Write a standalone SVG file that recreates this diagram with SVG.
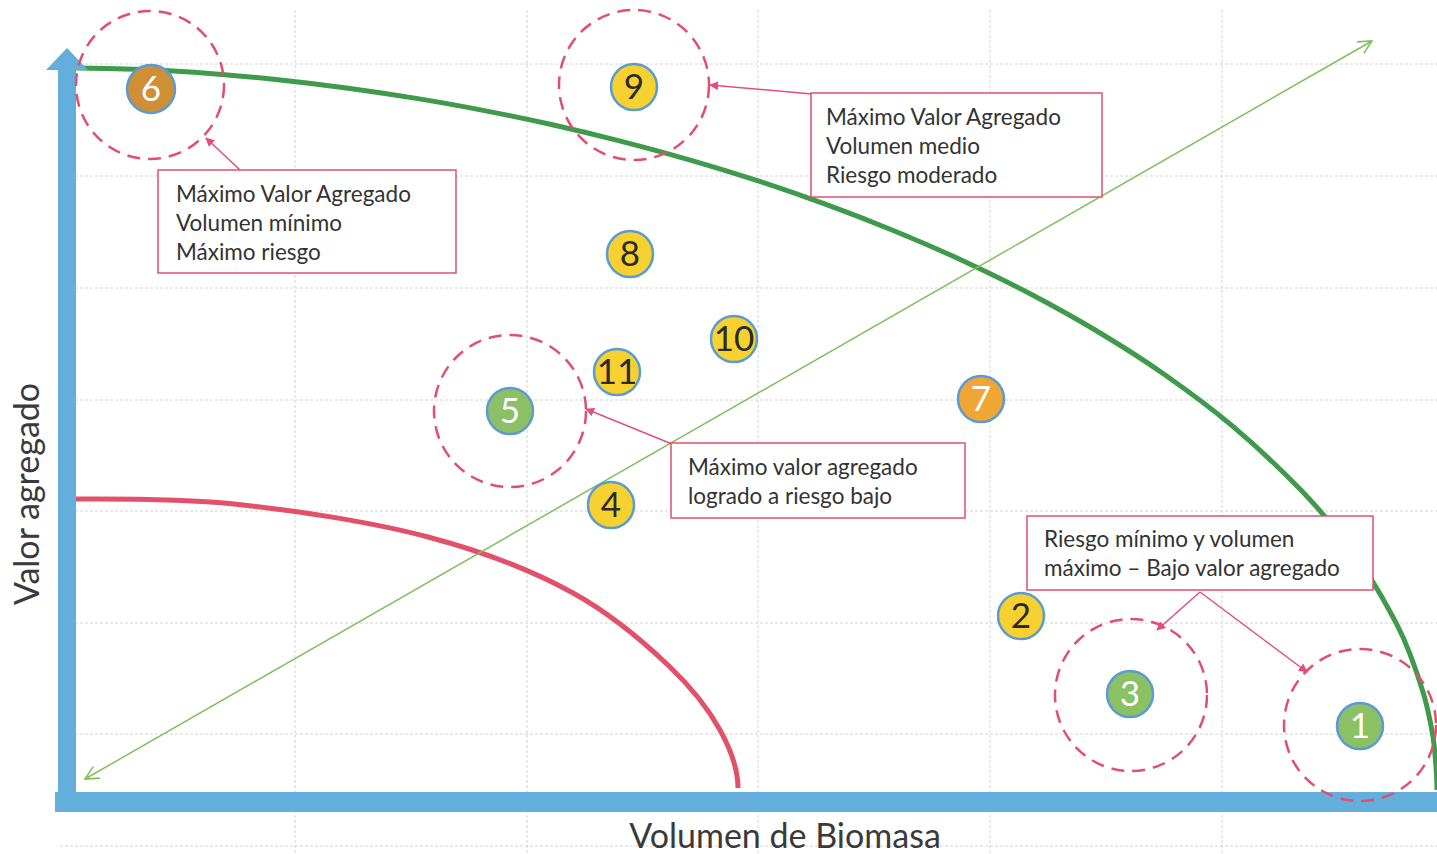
<svg xmlns="http://www.w3.org/2000/svg" width="1437" height="854" viewBox="0 0 1437 854">
  <style>
    .grid { stroke: #d4d4d4; stroke-width: 1; stroke-dasharray: 3 2; fill: none; }
    .zone { fill: none; stroke: #e0506e; stroke-width: 2.5; stroke-dasharray: 13 8; }
    .note { fill: #ffffff; stroke: #e0506e; stroke-width: 1.5; }
    .note-text { font-family: Lato, "Liberation Sans", sans-serif; font-size: 22.5px; fill: #333333; }
    .dot { stroke: #5b9bd5; stroke-width: 2.5; }
    .yellow { fill: #f6d12f; }
    .green { fill: #8cc064; }
    .orange { fill: #f0a634; }
    .brown { fill: #cf8f35; }
    .num { font-family: Lato, "Liberation Sans", sans-serif; font-size: 35px; text-anchor: middle; }
    .num-dark { fill: #2a2a2a; }
    .num-light { fill: #ffffff; }
    .axis-label { font-family: Lato, "Liberation Sans", sans-serif; font-size: 34px; fill: #3a3a3a; }
    .pointer { stroke: #e0507a; stroke-width: 1.5; fill: none; }
    .frontier { fill: none; stroke-width: 5; stroke-linejoin: round; stroke-linecap: butt; }
  </style>
  <defs>
    <marker id="pink-head" viewBox="0 0 10 10" refX="9" refY="5" markerWidth="9" markerHeight="9" markerUnits="userSpaceOnUse" orient="auto">
      <path d="M0,0 L10,5 L0,10 Z" fill="#e0507a"/>
    </marker>
    <marker id="green-head" viewBox="0 0 12 12" refX="11" refY="6" markerWidth="16" markerHeight="16" markerUnits="userSpaceOnUse" orient="auto-start-reverse">
      <path d="M1,1 L11,6 L1,11" fill="none" stroke="#7ec05a" stroke-width="1.2"/>
    </marker>
  </defs>

  <rect width="1437" height="854" fill="#ffffff"/>

  <!-- background grid -->
  <g id="grid">
    <line class="grid" x1="60" y1="64" x2="1437" y2="64"/>
    <line class="grid" x1="60" y1="176" x2="1437" y2="176"/>
    <line class="grid" x1="60" y1="288" x2="1437" y2="288"/>
    <line class="grid" x1="60" y1="400" x2="1437" y2="400"/>
    <line class="grid" x1="60" y1="511" x2="1437" y2="511"/>
    <line class="grid" x1="60" y1="623" x2="1437" y2="623"/>
    <line class="grid" x1="60" y1="734" x2="1437" y2="734"/>
    <line class="grid" x1="60" y1="846" x2="1437" y2="846"/>
    <line class="grid" x1="295" y1="10" x2="295" y2="854"/>
    <line class="grid" x1="527" y1="10" x2="527" y2="854"/>
    <line class="grid" x1="758" y1="10" x2="758" y2="854"/>
    <line class="grid" x1="990" y1="10" x2="990" y2="854"/>
    <line class="grid" x1="1222" y1="10" x2="1222" y2="854"/>
  </g>

  <!-- curves, the risk diagonal and note pointers -->
  <g id="connectors">
    <!-- outer frontier: y = 790 - 722*sqrt(1 - t^1.8), x = 76 + 1361*t, smoothed through sample points -->
    <path id="frontier-high" class="frontier" stroke="#3f9a4c" d="M76,68 C87.4,68 121.4,68.7 144.1,69.6 C166.8,70.6 189.4,72 212.1,73.7 C234.8,75.4 257.5,77.6 280.2,80 C302.9,82.4 325.5,85.1 348.2,88.2 C370.9,91.3 393.6,94.7 416.3,98.4 C439,102.1 461.6,106.2 484.3,110.6 C507,115 529.7,119.7 552.4,124.8 C575.1,129.9 597.7,135.3 620.4,141.1 C643.1,146.9 665.8,153.1 688.5,159.6 C711.2,166.2 733.8,173 756.5,180.4 C779.2,187.8 801.9,195.6 824.6,203.9 C847.3,212.2 869.9,220.9 892.6,230.2 C915.3,239.5 938,249.2 960.7,259.7 C983.4,270.2 1006,281.1 1028.7,293 C1051.4,304.9 1074.1,317.4 1096.8,331 C1119.5,344.6 1142.1,358.8 1164.8,374.7 C1187.5,390.6 1210.2,407.2 1232.9,426.4 C1255.6,445.6 1282.8,471.4 1300.9,489.9 C1319,508.4 1330.4,523 1341.7,537.3 C1353,551.6 1359.8,561.3 1368.9,575.6 C1378,589.9 1389.4,610.2 1396.2,623.2 C1403,636.2 1405.3,641.9 1409.8,653.6 C1414.3,665.3 1420,682 1423.4,693.3 C1426.8,704.6 1428.4,712.7 1430.2,721.6 C1432,730.5 1433.2,735.3 1434.3,746.7 C1435.4,758.1 1437,783 1437,790"/>
    <path id="frontier-low" class="frontier" stroke="#e2506a" d="M76,499 C102,499 175,498 234,504 C293,510 372,522 428,537 C485,552 533,571 573,593 C613,615 646,644 670,667 C694,690 709,710 720,730 C731,750 738,770 738,788"/>
    <line id="risk-axis" x1="85" y1="779" x2="1372" y2="41" stroke="#7ec05a" stroke-width="1.5" marker-start="url(#green-head)" marker-end="url(#green-head)"/>
    <line class="pointer" x1="240" y1="170" x2="206" y2="138" marker-end="url(#pink-head)"/>
    <line class="pointer" x1="812" y1="94" x2="710" y2="85" marker-end="url(#pink-head)"/>
    <line class="pointer" x1="672" y1="444" x2="586" y2="409" marker-end="url(#pink-head)"/>
    <line class="pointer" x1="1200" y1="592" x2="1157" y2="630" marker-end="url(#pink-head)"/>
    <line class="pointer" x1="1200" y1="592" x2="1307" y2="672" marker-end="url(#pink-head)"/>
  </g>

  <!-- axes -->
  <g id="axes">
    <rect x="58" y="66" width="18" height="746" fill="#64aedb"/>
    <path d="M46,70 L67,48 L88,70 Z" fill="#64aedb"/>
    <rect x="55" y="792" width="1382" height="20" fill="#64aedb"/>
    <text class="axis-label" x="0" y="0" text-anchor="middle" transform="translate(39,494) rotate(-90)">Valor agregado</text>
    <text class="axis-label" x="785" y="848" text-anchor="middle">Volumen de Biomasa</text>
  </g>

  <!-- highlighted zones -->
  <g id="zone-6"><circle class="zone" cx="150" cy="85" r="74"/></g>
  <g id="zone-9"><circle class="zone" cx="634" cy="85" r="75"/></g>
  <g id="zone-5"><circle class="zone" cx="510" cy="411" r="76"/></g>
  <g id="zone-3"><circle class="zone" cx="1131" cy="695" r="76"/></g>
  <g id="zone-1"><circle class="zone" cx="1360" cy="725" r="76"/></g>

  <!-- notes -->
  <g id="note-max-risk">
    <rect class="note" x="158" y="170" width="298" height="103"/>
    <text class="note-text" x="176" y="202">Máximo Valor Agregado</text>
    <text class="note-text" x="176" y="231">Volumen mínimo</text>
    <text class="note-text" x="176" y="260">Máximo riesgo</text>
  </g>
  <g id="note-moderate">
    <rect class="note" x="811" y="93" width="291" height="104"/>
    <text class="note-text" x="826" y="125">Máximo Valor Agregado</text>
    <text class="note-text" x="826" y="154">Volumen medio</text>
    <text class="note-text" x="826" y="183">Riesgo moderado</text>
  </g>
  <g id="note-low-risk">
    <rect class="note" x="671" y="443" width="294" height="75"/>
    <text class="note-text" x="688" y="475">Máximo valor agregado</text>
    <text class="note-text" x="688" y="504">logrado a riesgo bajo</text>
  </g>
  <g id="note-min-risk">
    <rect class="note" x="1027" y="516" width="346" height="74"/>
    <text class="note-text" x="1044" y="547">Riesgo mínimo y volumen</text>
    <text class="note-text" x="1044" y="576">máximo – Bajo valor agregado</text>
  </g>

  <!-- numbered points -->
  <g id="point-6"><circle class="dot brown" cx="151" cy="89" r="24"/><text class="num num-light" x="151" y="101">6</text></g>
  <g id="point-9"><circle class="dot yellow" cx="634" cy="87" r="23"/><text class="num num-dark" x="634" y="99">9</text></g>
  <g id="point-8"><circle class="dot yellow" cx="630" cy="254" r="23"/><text class="num num-dark" x="630" y="266">8</text></g>
  <g id="point-10"><circle class="dot yellow" cx="734" cy="339" r="23"/><text class="num num-dark" x="734" y="351">10</text></g>
  <g id="point-11"><circle class="dot yellow" cx="617" cy="372" r="23"/><text class="num num-dark" x="617" y="384">11</text></g>
  <g id="point-7"><circle class="dot orange" cx="981" cy="399" r="23"/><text class="num num-light" x="981" y="411">7</text></g>
  <g id="point-5"><circle class="dot green" cx="510" cy="411" r="23"/><text class="num num-light" x="510" y="423">5</text></g>
  <g id="point-4"><circle class="dot yellow" cx="611" cy="505" r="23"/><text class="num num-dark" x="611" y="517">4</text></g>
  <g id="point-2"><circle class="dot yellow" cx="1021" cy="616" r="23"/><text class="num num-dark" x="1021" y="628">2</text></g>
  <g id="point-3"><circle class="dot green" cx="1130" cy="694" r="23"/><text class="num num-light" x="1130" y="706">3</text></g>
  <g id="point-1"><circle class="dot green" cx="1360" cy="726" r="23"/><text class="num num-light" x="1360" y="738">1</text></g>
</svg>
